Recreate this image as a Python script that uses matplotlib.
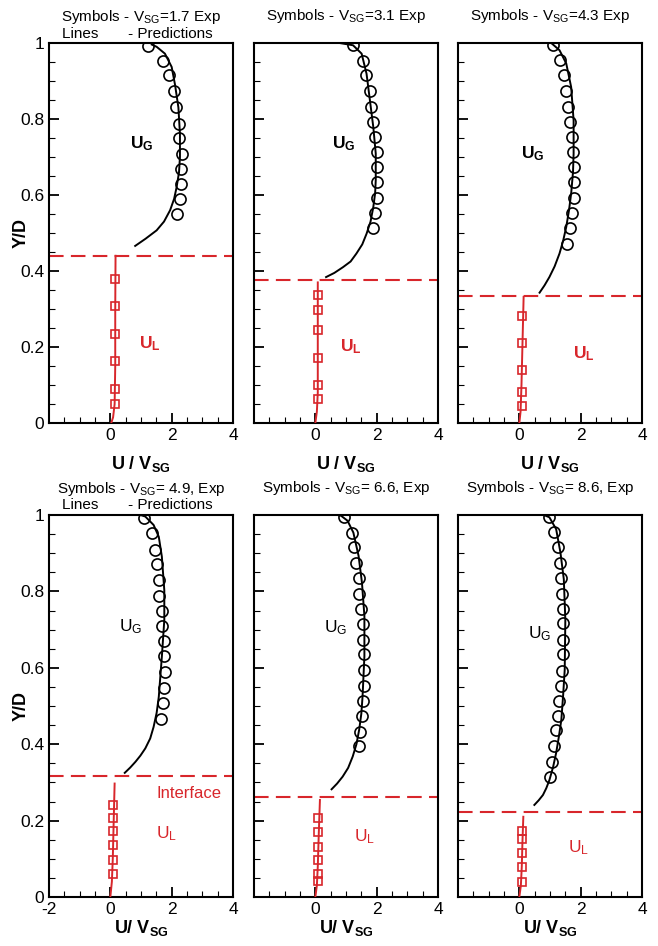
import matplotlib.pyplot as plt
from matplotlib.ticker import MultipleLocator, FixedLocator, FixedFormatter

plt.rcParams['font.family'] = ['Liberation Sans', 'DejaVu Sans']
plt.rcParams['mathtext.fontset'] = 'custom'
plt.rcParams['mathtext.rm'] = 'Liberation Sans'
plt.rcParams['mathtext.it'] = 'Liberation Sans:italic'
plt.rcParams['mathtext.bf'] = 'Liberation Sans:bold'

RED = '#d8262b'

# superficial gas velocities (m/s) of the six cases
vsg = [1.7, 3.1, 4.3, 4.9, 6.6, 8.6]
interface = [0.44, 0.377, 0.333, 0.317, 0.261, 0.222]

# gas phase, experiment (circles)
ug_exp_u1 = [1.22, 1.73, 1.92, 2.09, 2.15, 2.25, 2.25, 2.35, 2.32, 2.32, 2.27, 2.19]
ug_exp_y1 = [0.992, 0.953, 0.915, 0.873, 0.832, 0.788, 0.751, 0.709, 0.669, 0.630, 0.590, 0.549]
ug_exp_u2 = [1.23, 1.56, 1.64, 1.78, 1.81, 1.89, 1.95, 2.0, 2.0, 2.02, 2.02, 1.95, 1.89]
ug_exp_y2 = [0.996, 0.953, 0.915, 0.874, 0.832, 0.792, 0.753, 0.713, 0.674, 0.634, 0.593, 0.553, 0.513]
ug_exp_u3 = [1.09, 1.34, 1.45, 1.53, 1.58, 1.66, 1.73, 1.75, 1.77, 1.77, 1.77, 1.73, 1.64, 1.56]
ug_exp_y3 = [0.996, 0.956, 0.915, 0.874, 0.832, 0.792, 0.753, 0.713, 0.674, 0.634, 0.593, 0.553, 0.513, 0.472]
ug_exp_u4 = [1.09, 1.36, 1.45, 1.52, 1.60, 1.60, 1.68, 1.68, 1.74, 1.74, 1.77, 1.74, 1.72, 1.66]
ug_exp_y4 = [0.993, 0.954, 0.908, 0.871, 0.830, 0.788, 0.749, 0.710, 0.671, 0.631, 0.589, 0.548, 0.509, 0.467]
ug_exp_u5 = [0.95, 1.20, 1.27, 1.33, 1.41, 1.43, 1.49, 1.54, 1.54, 1.60, 1.60, 1.58, 1.54, 1.51, 1.47, 1.41]
ug_exp_y5 = [0.994, 0.954, 0.915, 0.874, 0.834, 0.792, 0.753, 0.715, 0.674, 0.635, 0.594, 0.553, 0.514, 0.475, 0.433, 0.396]
ug_exp_u6 = [0.96, 1.13, 1.26, 1.31, 1.37, 1.40, 1.42, 1.42, 1.44, 1.42, 1.40, 1.37, 1.29, 1.26, 1.20, 1.13, 1.07, 1.01]
ug_exp_y6 = [0.996, 0.956, 0.917, 0.874, 0.835, 0.792, 0.755, 0.716, 0.674, 0.635, 0.591, 0.552, 0.514, 0.473, 0.436, 0.396, 0.353, 0.315]

# gas phase, predictions (lines)
ug_pred_u1 = [0.81, 1.15, 1.51, 1.75, 1.95, 2.08, 2.16, 2.24, 2.27, 2.27, 2.22, 2.11, 2.0, 1.78, 1.51, 1.35]
ug_pred_y1 = [0.466, 0.485, 0.507, 0.530, 0.560, 0.590, 0.620, 0.660, 0.700, 0.760, 0.830, 0.890, 0.937, 0.972, 0.990, 0.996]
ug_pred_u2 = [0.35, 0.62, 0.90, 1.15, 1.34, 1.53, 1.67, 1.80, 1.89, 1.95, 1.97, 1.97, 1.89, 1.78, 1.67, 1.51, 1.23, 0.79, 0.52]
ug_pred_y2 = [0.384, 0.395, 0.410, 0.425, 0.446, 0.470, 0.498, 0.530, 0.568, 0.605, 0.639, 0.709, 0.779, 0.849, 0.919, 0.972, 0.994, 1.0, 1.003]
ug_pred_u3 = [0.66, 0.82, 0.98, 1.15, 1.31, 1.43, 1.53, 1.62, 1.69, 1.75, 1.77, 1.77, 1.69, 1.53, 1.31, 1.04]
ug_pred_y3 = [0.343, 0.362, 0.384, 0.412, 0.446, 0.480, 0.516, 0.560, 0.604, 0.660, 0.709, 0.796, 0.884, 0.946, 0.981, 1.0]
ug_pred_u4 = [0.47, 0.65, 0.82, 0.98, 1.14, 1.30, 1.41, 1.51, 1.58, 1.68, 1.76, 1.76, 1.68, 1.58, 1.41, 1.14, 0.98]
ug_pred_y4 = [0.325, 0.339, 0.354, 0.370, 0.389, 0.415, 0.445, 0.482, 0.524, 0.629, 0.725, 0.803, 0.891, 0.943, 0.974, 0.996, 1.0]
ug_pred_u5 = [0.53, 0.71, 0.89, 1.07, 1.22, 1.34, 1.43, 1.50, 1.54, 1.60, 1.60, 1.52, 1.41, 1.24, 1.05, 0.84, 0.57]
ug_pred_y5 = [0.282, 0.297, 0.315, 0.338, 0.368, 0.400, 0.438, 0.480, 0.525, 0.630, 0.736, 0.823, 0.893, 0.954, 0.985, 0.998, 1.003]
ug_pred_u6 = [0.49, 0.63, 0.77, 0.88, 0.98, 1.10, 1.20, 1.29, 1.37, 1.43, 1.48, 1.50, 1.45, 1.34, 1.20, 0.98, 0.71]
ug_pred_y6 = [0.241, 0.253, 0.267, 0.285, 0.306, 0.340, 0.377, 0.420, 0.464, 0.530, 0.595, 0.727, 0.832, 0.902, 0.963, 0.994, 1.003]

# liquid phase, experiment (squares)
ul_exp_u1 = [0.16, 0.16, 0.16, 0.16, 0.16, 0.16]
ul_exp_y1 = [0.380, 0.307, 0.235, 0.163, 0.090, 0.049]
ul_exp_u2 = [0.08, 0.08, 0.08, 0.08, 0.08, 0.08]
ul_exp_y2 = [0.336, 0.298, 0.244, 0.172, 0.101, 0.064]
ul_exp_u3 = [0.08, 0.08, 0.08, 0.08, 0.08]
ul_exp_y3 = [0.281, 0.211, 0.139, 0.082, 0.044]
ul_exp_u4 = [0.09, 0.09, 0.09, 0.09, 0.09, 0.09]
ul_exp_y4 = [0.242, 0.207, 0.172, 0.135, 0.098, 0.059]
ul_exp_u5 = [0.08, 0.08, 0.08, 0.08, 0.08, 0.08]
ul_exp_y5 = [0.206, 0.171, 0.131, 0.096, 0.059, 0.041]
ul_exp_u6 = [0.09, 0.09, 0.09, 0.09, 0.09]
ul_exp_y6 = [0.172, 0.153, 0.115, 0.079, 0.039]

# liquid phase, predictions
ul_pred_u1 = [0.03, 0.09, 0.14, 0.16, 0.16, 0.17]
ul_pred_y1 = [0.0, 0.015, 0.05, 0.15, 0.30, 0.44]
ul_pred_u2 = [0.0, 0.05, 0.08, 0.08, 0.08]
ul_pred_y2 = [0.0, 0.03, 0.08, 0.20, 0.37]
ul_pred_u3 = [0.0, 0.04, 0.07, 0.10, 0.14]
ul_pred_y3 = [0.0, 0.03, 0.10, 0.20, 0.332]
ul_pred_u4 = [0.0, 0.05, 0.08, 0.11, 0.14]
ul_pred_y4 = [0.0, 0.04, 0.10, 0.20, 0.297]
ul_pred_u5 = [0.0, 0.05, 0.08, 0.11, 0.15]
ul_pred_y5 = [0.0, 0.03, 0.08, 0.16, 0.254]
ul_pred_u6 = [0.0, 0.05, 0.08, 0.10, 0.13]
ul_pred_y6 = [0.0, 0.03, 0.08, 0.14, 0.21]

# label anchors (U/Vsg, Y/D), left edge of text
ug_label_pos = [(0.65, 0.735), (0.54, 0.735), (0.05, 0.709), (0.27, 0.707), (0.27, 0.705), (0.27, 0.69)]
ul_label_pos = [(0.92, 0.209), (0.79, 0.20), (1.75, 0.182), (1.49, 0.166), (1.27, 0.158), (1.58, 0.128)]

ug_exp = [(ug_exp_u1, ug_exp_y1), (ug_exp_u2, ug_exp_y2), (ug_exp_u3, ug_exp_y3),
          (ug_exp_u4, ug_exp_y4), (ug_exp_u5, ug_exp_y5), (ug_exp_u6, ug_exp_y6)]
ug_pred = [(ug_pred_u1, ug_pred_y1), (ug_pred_u2, ug_pred_y2), (ug_pred_u3, ug_pred_y3),
           (ug_pred_u4, ug_pred_y4), (ug_pred_u5, ug_pred_y5), (ug_pred_u6, ug_pred_y6)]
ul_exp = [(ul_exp_u1, ul_exp_y1), (ul_exp_u2, ul_exp_y2), (ul_exp_u3, ul_exp_y3),
          (ul_exp_u4, ul_exp_y4), (ul_exp_u5, ul_exp_y5), (ul_exp_u6, ul_exp_y6)]
ul_pred = [(ul_pred_u1, ul_pred_y1), (ul_pred_u2, ul_pred_y2), (ul_pred_u3, ul_pred_y3),
           (ul_pred_u4, ul_pred_y4), (ul_pred_u5, ul_pred_y5), (ul_pred_u6, ul_pred_y6)]

fig = plt.figure(figsize=(6.58, 9.46), dpi=100)

W, H = 658.0, 946.0
lefts = [49, 254, 458]
row_box = [(43, 423), (515, 897)]  # top, bottom pixel rows

for i in range(6):
    row, col = divmod(i, 3)
    top, bot = row_box[row]
    ax = fig.add_axes([lefts[col] / W, (H - bot) / H, 184 / W, (bot - top) / H])

    ax.plot(*ug_pred[i], color='black', lw=1.4, zorder=3)
    ax.plot(*ug_exp[i], 'o', mfc='none', mec='black', ms=8, mew=1.2, zorder=4)
    ax.plot(*ul_pred[i], color=RED, lw=1.4, zorder=3)
    ax.plot(*ul_exp[i], 's', mfc='none', mec=RED, ms=5.5, mew=1.2, zorder=4)
    ax.axhline(interface[i], color=RED, lw=1.5, dashes=(7, 3.5), zorder=2)

    ax.set_xlim(-2, 4)
    ax.set_ylim(0, 1)
    ax.xaxis.set_minor_locator(MultipleLocator(0.5))
    ax.yaxis.set_major_locator(MultipleLocator(0.2))
    ax.yaxis.set_minor_locator(MultipleLocator(0.05))
    ax.tick_params(which='both', direction='in', top=False, right=False, labelsize=12.5)
    ax.tick_params(which='major', length=7, width=1.3)
    ax.tick_params(which='minor', length=4, width=0.8)
    for s in ax.spines.values():
        s.set_linewidth(1.5)

    if i == 3:
        xt = ['-2', '0', '2', '4']
    else:
        xt = ['', '0', '2', '4']
    ax.xaxis.set_major_locator(FixedLocator([-2, 0, 2, 4]))
    ax.xaxis.set_major_formatter(FixedFormatter(xt))

    if col == 0:
        ax.yaxis.set_major_locator(FixedLocator([0, 0.2, 0.4, 0.6, 0.8, 1.0]))
        ax.yaxis.set_major_formatter(FixedFormatter(['0', '0.2', '0.4', '0.6', '0.8', '1']))
        ax.text(-0.152, 0.5, 'Y/D', transform=ax.transAxes, rotation=90,
                fontsize=13, fontweight='bold', ha='center', va='center')
    else:
        ax.set_yticklabels([])

    if row == 0:
        ax.set_xlabel(r'$\mathbf{U\ /\ V_{SG}}$', fontsize=13, labelpad=8)
        ug_txt, ul_txt = r'$\mathbf{U_G}$', r'$\mathbf{U_L}$'
        title = r'Symbols - V$_{\mathrm{SG}}$=%.1f Exp' % vsg[i]
    else:
        ax.set_xlabel(r'$\mathbf{U/\ V_{SG}}$', fontsize=13, labelpad=1)
        ug_txt, ul_txt = r'$\mathrm{U_G}$', r'$\mathrm{U_L}$'
        title = r'Symbols - V$_{\mathrm{SG}}$= %.1f, Exp' % vsg[i]

    ax.text(*ug_label_pos[i], ug_txt, fontsize=12.5, color='black', ha='left', va='center')
    ax.text(*ul_label_pos[i], ul_txt, fontsize=12.5, color=RED, ha='left', va='center')

    if i == 3:
        ax.text(1.52, 0.272, 'Interface', fontsize=12, color=RED, ha='left', va='center')

    if col == 0:
        ax.text(0.5, 1.068, title, transform=ax.transAxes, fontsize=11, ha='center', va='center')
        ax.text(0.07, 1.025, 'Lines       - Predictions', transform=ax.transAxes,
                fontsize=11, ha='left', va='center')
    else:
        ax.text(0.5, 1.07, title, transform=ax.transAxes, fontsize=11, ha='center', va='center')

fig.savefig('out.png', dpi=100)
